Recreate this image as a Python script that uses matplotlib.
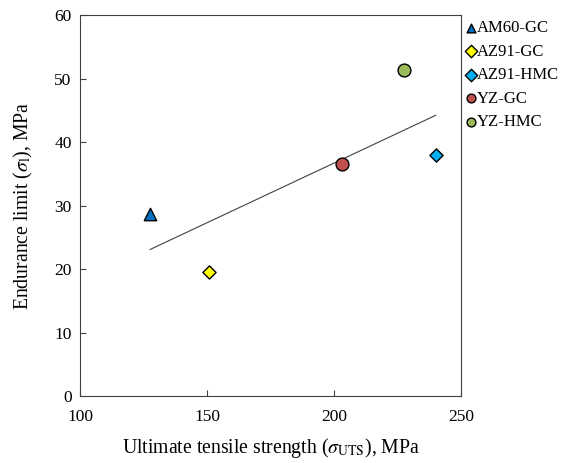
import numpy as np
import matplotlib.pyplot as plt

plt.rcParams['font.family'] = ['Liberation Serif', 'DejaVu Serif']
plt.rcParams['mathtext.fontset'] = 'stix'

# alloy data: ultimate tensile strength vs endurance limit
alloys = ['AM60-GC', 'AZ91-GC', 'AZ91-HMC', 'YZ-GC', 'YZ-HMC']
uts = [127.6, 150.9, 240.0, 203.3, 227.6]
endurance = [28.6, 19.5, 38.0, 36.5, 51.3]
markers = ['^', 'D', 'D', 'o', 'o']
colors = ['#0070C0', '#FFFF00', '#00B0F0', '#C0504D', '#9BBB59']
sizes = [80, 45, 45, 85, 85]

fig = plt.figure(figsize=(5.65, 4.63), dpi=100)
ax = fig.add_axes([0.1416, 0.1447, 0.816 - 0.1416, 0.9676 - 0.1447])

# linear trend line over the data range
coef = np.polyfit(uts, endurance, 1)
xs = np.array([min(uts), max(uts)])
ax.plot(xs, np.polyval(coef, xs), color='#404040', lw=0.8, zorder=2)

for name, x, y, m, c, s in zip(alloys, uts, endurance, markers, colors, sizes):
    ax.scatter(x, y, marker=m, s=s, color=c, edgecolors='black',
               linewidths=1.0, label=name, zorder=3)

ax.set_xlim(100, 250)
ax.set_ylim(0, 60)
ax.set_xticks([100, 150, 200, 250])
ax.set_yticks(range(0, 61, 10))
ax.tick_params(direction='in', length=4, width=0.8, color='#404040',
               labelsize=12.5, pad=6)
ax.tick_params(axis='x', pad=9)
for sp in ax.spines.values():
    sp.set_color('#404040')
    sp.set_linewidth(0.8)

ax.set_xlabel(r'Ultimate tensile strength ($\sigma_{\mathrm{UTS}}$), MPa',
              fontsize=14.2, labelpad=8)
ax.set_ylabel(r'Endurance limit ($\sigma_{\mathrm{l}}$), MPa',
              fontsize=14.2, labelpad=14)

leg = ax.legend(loc='upper left', bbox_to_anchor=(0.99, 1.0), frameon=False,
                fontsize=12, handletextpad=-0.1, labelspacing=0.45,
                borderaxespad=0.0, borderpad=0.3, handlelength=1.0,
                scatterpoints=1)
for h in leg.legend_handles:
    h.set_sizes([40])

fig.savefig('out.png', dpi=100)
